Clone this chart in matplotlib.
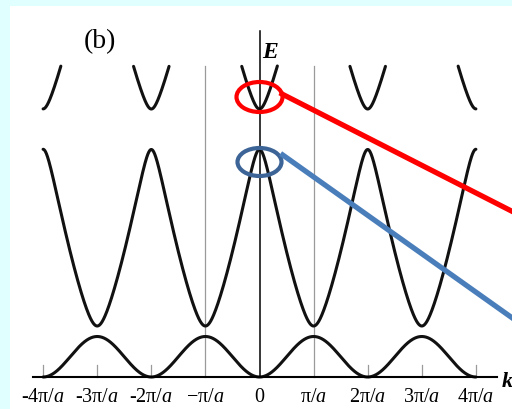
import numpy as np
import matplotlib
matplotlib.use("Agg")
import matplotlib.pyplot as plt
from matplotlib.patches import Rectangle, Ellipse

plt.rcParams["font.family"] = ["Liberation Serif", "DejaVu Serif"]
plt.rcParams["mathtext.fontset"] = "custom"
plt.rcParams["mathtext.rm"] = "Liberation Serif"
plt.rcParams["mathtext.it"] = "Liberation Serif:italic"

# Wave vector positions (units of pi/a) and their labels
tick_positions = [-4, -3, -2, -1, 0, 1, 2, 3, 4]
tick_labels = ["-4π/$a$", "-3π/$a$", "-2π/$a$", "−π/$a$", "0",
               "π/$a$", "2π/$a$", "3π/$a$", "4π/$a$"]

# Band-edge energies (arbitrary units, E = 0 at the k axis)
band1_top = 40.5
band2_edges = [51.0, 227.5]      # bottom at odd k, top at even k
band3_bottom = 268.0
energy_cutoff = 311.0            # curves are drawn up to this energy
band3_halfwidth = 0.33           # k (pi/a) where band 3 reaches the cutoff

# Fourier components of the periodic potential (nearly-free-electron model)
V1, V2 = 0.36, 0.44


def nfe_bands(q, v1, v2, nmax=4):
    """Lowest eigenvalues of the plane-wave Hamiltonian, k = q*pi/a."""
    n = np.arange(-nmax, nmax + 1)
    diff = np.abs(n[:, None] - n[None, :])
    coupling = np.where(diff == 1, v1, 0.0) + np.where(diff == 2, v2, 0.0)
    out = np.empty((len(q), 3))
    for i, qq in enumerate(q):
        H = np.diag((qq + 2 * n) ** 2.0) + coupling
        out[i] = np.linalg.eigvalsh(H)[:3]
    return out


q = np.linspace(-4, 4, 4001)
E = nfe_bands(q, V1, V2)
ref = nfe_bands(np.array([0.0, 1.0, band3_halfwidth]), V1, V2)

# band 1: tight-binding cosine
b1 = band1_top * np.sin(np.pi * q / 2) ** 2
# band 2: nearly-free-electron band rescaled to its edges
lo, hi = ref[1, 1], ref[0, 1]
b2 = band2_edges[0] + (E[:, 1] - lo) / (hi - lo) * (band2_edges[1] - band2_edges[0])
# band 3
scale3 = (energy_cutoff - band3_bottom) / (ref[2, 2] - ref[0, 2])
b3 = band3_bottom + (E[:, 2] - ref[0, 2]) * scale3
b3 = np.where(b3 <= energy_cutoff, b3, np.nan)

fig = plt.figure(figsize=(5.12, 4.10), dpi=100)
fig.patch.set_facecolor("#E0FFFF")
fig.add_artist(Rectangle((10 / 512, 0), 1, 403 / 410, transform=fig.transFigure,
                         facecolor="white", edgecolor="none", zorder=0))

ax = fig.add_axes([0, 0, 1, 1])
ax.patch.set_alpha(0)
ax.set_xlim(-259.5 / 54.1, (512 - 259.5) / 54.1)
ax.set_ylim(-32, 378)
ax.axis("off")

# zone boundaries and ticks
grey = "#9a9a9a"
for x in (-1, 1):
    ax.plot([x, x], [0, energy_cutoff], color=grey, lw=0.9, zorder=1)
for x in tick_positions:
    if x not in (-1, 0, 1):
        ax.plot([x, x], [0, 12], color=grey, lw=0.9, zorder=1)

# axes
ax.plot([-4.19, 4.39], [0, 0], color="black", lw=1.5, zorder=3)
ax.plot([0, 0], [0, 346], color="black", lw=1.1, zorder=3)

# bands
for b in (b1, b2, b3):
    ax.plot(q, b, color="#111111", lw=2.2, zorder=2, solid_capstyle="round")

# labels
for x, lab in zip(tick_positions, tick_labels):
    ax.text(x, -20, lab, ha="center", va="center", fontsize=14.5)
ax.text(0.05, 326, "E", ha="left", va="center", fontsize=17,
        fontstyle="italic", fontweight="bold")
ax.text(4.47, -4, "k", ha="left", va="center", fontsize=16,
        fontstyle="italic", fontweight="bold")
ax.text(-2.95, 336, "(b)", ha="center", va="center", fontsize=20)

# highlighted band edges
red = "#FF0000"
blue_ring = "#3C6496"
blue_line = "#4A7EBB"
ax.add_patch(Ellipse((0, 280), 46 / 54.1, 30, fill=False, edgecolor=red,
                     lw=3.0, zorder=5))
ax.plot([0.416, 4.8], [283, 283 - (4.8 - 0.416) * 54.1 * 0.51],
        color=red, lw=3.8, zorder=5, clip_on=False)
ax.add_patch(Ellipse((0, 215), 44 / 54.1, 28, fill=False, edgecolor=blue_ring,
                     lw=3.0, zorder=5))
ax.plot([0.43, 4.8], [222, 222 - (4.8 - 0.43) * 54.1 * 0.71],
        color=blue_line, lw=3.8, zorder=5, clip_on=False)

fig.savefig("out.png", dpi=100, facecolor=fig.get_facecolor())
